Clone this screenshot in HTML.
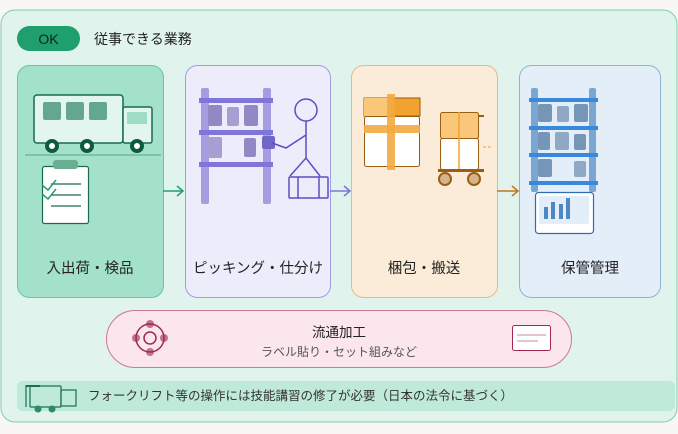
<!DOCTYPE html>
<html><head><meta charset="utf-8"><style>
html,body{margin:0;padding:0;background:#f9f7f4;}
svg{display:block}
text{font-family:"Liberation Sans","Noto Sans CJK JP",sans-serif;}
</style></head><body>
<svg width="678" height="434" viewBox="0 0 678 434" xmlns="http://www.w3.org/2000/svg">
<rect x="0" y="0" width="678" height="434" fill="#f9f7f4"/>
<rect x="1" y="10" width="676" height="412" rx="14" fill="#e0f3ec" stroke="#7fcfae" stroke-width="1"/>
<rect x="17" y="26" width="63" height="25" rx="12.5" fill="#1f9e6e"/>
<text x="48.5" y="44" font-size="14" text-anchor="middle" fill="#10241c">OK</text>
<text x="94" y="44" font-size="14" fill="#222">従事できる業務</text>

<!-- card1 -->
<rect x="17.5" y="65.5" width="146" height="232" rx="12" fill="#a3e1cb" stroke="#6cc4a2"/>
<rect x="34" y="95" width="89" height="48" rx="3" fill="#e2f5ee" stroke="#1a6b4e" stroke-width="1.5"/>
<rect x="43" y="102" width="18" height="18" rx="2" fill="#65a690"/>
<rect x="66" y="102" width="18" height="18" rx="2" fill="#65a690"/>
<rect x="89" y="102" width="18" height="18" rx="2" fill="#65a690"/>
<rect x="123" y="107" width="29" height="36" rx="2" fill="#e2f5ee" stroke="#1a6b4e" stroke-width="1.5"/>
<rect x="127" y="112" width="20" height="12" rx="1" fill="#9fdcc5"/>
<g fill="#fff" stroke="#0f5a3e" stroke-width="4"><circle cx="52" cy="146" r="5"/><circle cx="87" cy="146" r="5"/><circle cx="137" cy="146" r="5"/></g>
<line x1="25" y1="155" x2="161" y2="155" stroke="#6aae94" stroke-width="1.2"/>
<rect x="42.5" y="166.5" width="46" height="57" rx="2" fill="#fff" stroke="#1a6b4e" stroke-width="1.2"/>
<rect x="53" y="160" width="25" height="9" rx="3" fill="#6aae94"/>
<g stroke="#1a6b4e" stroke-width="1.2"><line x1="51" y1="184" x2="81" y2="184"/><line x1="51" y1="195" x2="81" y2="195"/><line x1="51" y1="206" x2="81" y2="206"/></g>
<g stroke="#22a06c" stroke-width="1.5" fill="none"><polyline points="42,185 48,190 56,180"/><polyline points="42,194 48,199 56,189"/></g>
<text x="90" y="273" font-size="14.5" text-anchor="middle" fill="#222">入出荷・検品</text>

<line x1="163" y1="191" x2="183" y2="191" stroke="#22a06c" stroke-width="1.5"/>
<polyline points="177,186 183,191 177,196" fill="none" stroke="#22a06c" stroke-width="1.5"/>

<!-- card2 -->
<rect x="185.5" y="65.5" width="145" height="232" rx="12" fill="#ececfb" stroke="#a19ce6"/>
<rect x="201" y="88" width="8" height="116" rx="2" fill="#a49ee0"/>
<rect x="263" y="88" width="8" height="116" rx="2" fill="#a49ee0"/>
<g fill="#7f76d8"><rect x="199" y="98" width="74" height="5"/><rect x="199" y="130" width="74" height="5"/><rect x="199" y="162" width="74" height="5"/></g>
<g fill="#9488c4"><rect x="208" y="105" width="14" height="21" rx="2"/><rect x="227" y="107" width="12" height="19" rx="2" fill="#a79ed2"/><rect x="244" y="105" width="14" height="21" rx="2"/><rect x="208" y="137" width="14" height="21" rx="2" fill="#a79ed2"/><rect x="244" y="138" width="12" height="19" rx="2"/></g>
<rect x="262" y="136" width="13" height="13" rx="2" fill="#7068c8"/>
<g stroke="#5a4fc4" stroke-width="1.5" fill="none"><circle cx="306" cy="110" r="11"/><line x1="306" y1="121" x2="306" y2="158"/><polyline points="272,143 286,148 306,135"/><polyline points="290,176 306,158 320,176"/><rect x="289" y="177" width="39" height="21" rx="1"/><line x1="298" y1="177" x2="298" y2="198"/><line x1="319" y1="177" x2="319" y2="198"/></g>
<text x="258" y="273" font-size="14.5" text-anchor="middle" fill="#222">ピッキング・仕分け</text>

<line x1="330" y1="191" x2="350" y2="191" stroke="#7f76d8" stroke-width="1.5"/>
<polyline points="344,186 350,191 344,196" fill="none" stroke="#7f76d8" stroke-width="1.5"/>

<!-- card3 -->
<rect x="351.5" y="65.5" width="146" height="232" rx="12" fill="#faecd9" stroke="#e0bd88"/>
<rect x="364" y="98" width="56" height="18" fill="#f2a22e" stroke="#9a5d14" stroke-width="1"/>
<rect x="364" y="98" width="26" height="18" fill="#f8c77a"/>
<rect x="364.5" y="116.5" width="55" height="50" rx="2" fill="#fff" stroke="#9a5d14" stroke-width="1"/>
<rect x="364" y="125" width="56" height="8" fill="#f2aa40" opacity="0.9"/>
<rect x="387" y="94" width="8" height="76" fill="#f2aa40" opacity="0.9"/>
<rect x="440.5" y="112.5" width="38" height="26" rx="2" fill="#f8c77a" stroke="#9a5d14"/>
<rect x="440.5" y="138.5" width="38" height="31" rx="2" fill="#fff" stroke="#9a5d14"/>
<line x1="459" y1="112" x2="459" y2="170" stroke="#f2a22e" stroke-width="1.5"/>
<line x1="478" y1="116" x2="484" y2="116" stroke="#9a5d14" stroke-width="2"/>
<line x1="483" y1="147" x2="492" y2="147" stroke="#e8a050" stroke-width="1" stroke-dasharray="3,2"/>
<rect x="438" y="169" width="46" height="3" fill="#9a5d14"/>
<g fill="#d6b48a" stroke="#9a5d14" stroke-width="2"><circle cx="445" cy="179" r="6"/><circle cx="474" cy="179" r="6"/></g>
<text x="424" y="273" font-size="14.5" text-anchor="middle" fill="#222">梱包・搬送</text>

<line x1="497" y1="191" x2="518" y2="191" stroke="#c07820" stroke-width="1.5"/>
<polyline points="512,186 518,191 512,196" fill="none" stroke="#c07820" stroke-width="1.5"/>

<!-- card4 -->
<rect x="519.5" y="65.5" width="141" height="232" rx="12" fill="#e4eef9" stroke="#8fb3d8"/>
<rect x="531" y="88" width="7" height="104" rx="2" fill="#7aa6d2"/>
<rect x="589" y="88" width="7" height="104" rx="2" fill="#7aa6d2"/>
<g fill="#3a88dc"><rect x="529" y="98" width="69" height="4"/><rect x="529" y="126" width="69" height="4"/><rect x="529" y="153" width="69" height="4"/><rect x="529" y="181" width="69" height="4"/></g>
<g fill="#7696b8"><rect x="538" y="104" width="14" height="18" rx="2"/><rect x="557" y="106" width="12" height="16" rx="2" fill="#8fa9c4"/><rect x="574" y="104" width="14" height="18" rx="2"/><rect x="538" y="132" width="12" height="18" rx="2"/><rect x="555" y="132" width="14" height="18" rx="2" fill="#8fa9c4"/><rect x="574" y="134" width="12" height="16" rx="2"/><rect x="538" y="159" width="14" height="18" rx="2"/><rect x="574" y="161" width="12" height="16" rx="2" fill="#8fa9c4"/></g>
<rect x="535.5" y="192.5" width="58" height="41" rx="3" fill="#fff" stroke="#2f6cb0" stroke-width="1.2"/>
<rect x="539" y="196" width="50" height="28" rx="2" fill="#e4eef9"/>
<g fill="#4e88c4"><rect x="544" y="207" width="4" height="12"/><rect x="551" y="202" width="4" height="17"/><rect x="559" y="204" width="4" height="15"/><rect x="566" y="198" width="4" height="21"/></g>
<text x="590" y="273" font-size="14.5" text-anchor="middle" fill="#222">保管管理</text>

<!-- pink pill -->
<rect x="106.5" y="310.5" width="465" height="57" rx="28.5" fill="#fbe6ee" stroke="#c87a96"/>
<g fill="#c07090"><circle cx="150" cy="324" r="4"/><circle cx="150" cy="352" r="4"/><circle cx="136" cy="338" r="4"/><circle cx="164" cy="338" r="4"/></g>
<circle cx="150" cy="338" r="14" fill="none" stroke="#a02850" stroke-width="1.5"/>
<circle cx="150" cy="338" r="6" fill="none" stroke="#a02850" stroke-width="1.5"/>
<text x="339" y="337" font-size="13.5" text-anchor="middle" fill="#222">流通加工</text>
<text x="339" y="356" font-size="12" text-anchor="middle" fill="#555">ラベル貼り・セット組みなど</text>
<rect x="512.5" y="325.5" width="38" height="25" rx="2" fill="#fff" stroke="#a02850"/>
<line x1="517" y1="335" x2="546" y2="335" stroke="#c88aa0"/>
<line x1="517" y1="341" x2="538" y2="341" stroke="#c88aa0"/>

<!-- bottom bar -->
<rect x="17" y="381" width="658" height="30" rx="6" fill="#bfe9d9"/>
<g fill="none" stroke="#1a7050" stroke-width="1.2"><line x1="26" y1="385" x2="26" y2="407"/><rect x="30" y="386" width="31" height="21" rx="1"/><rect x="61" y="390" width="15" height="16"/></g>
<rect x="26" y="385" width="14" height="2" fill="#1a7050"/>
<g fill="#2e8a62"><circle cx="38" cy="409" r="3.5"/><circle cx="52" cy="409" r="3.5"/></g>
<text x="88" y="400" font-size="12.5" fill="#333">フォークリフト等の操作には技能講習の修了が必要（日本の法令に基づく）</text>
</svg>
</body></html>
